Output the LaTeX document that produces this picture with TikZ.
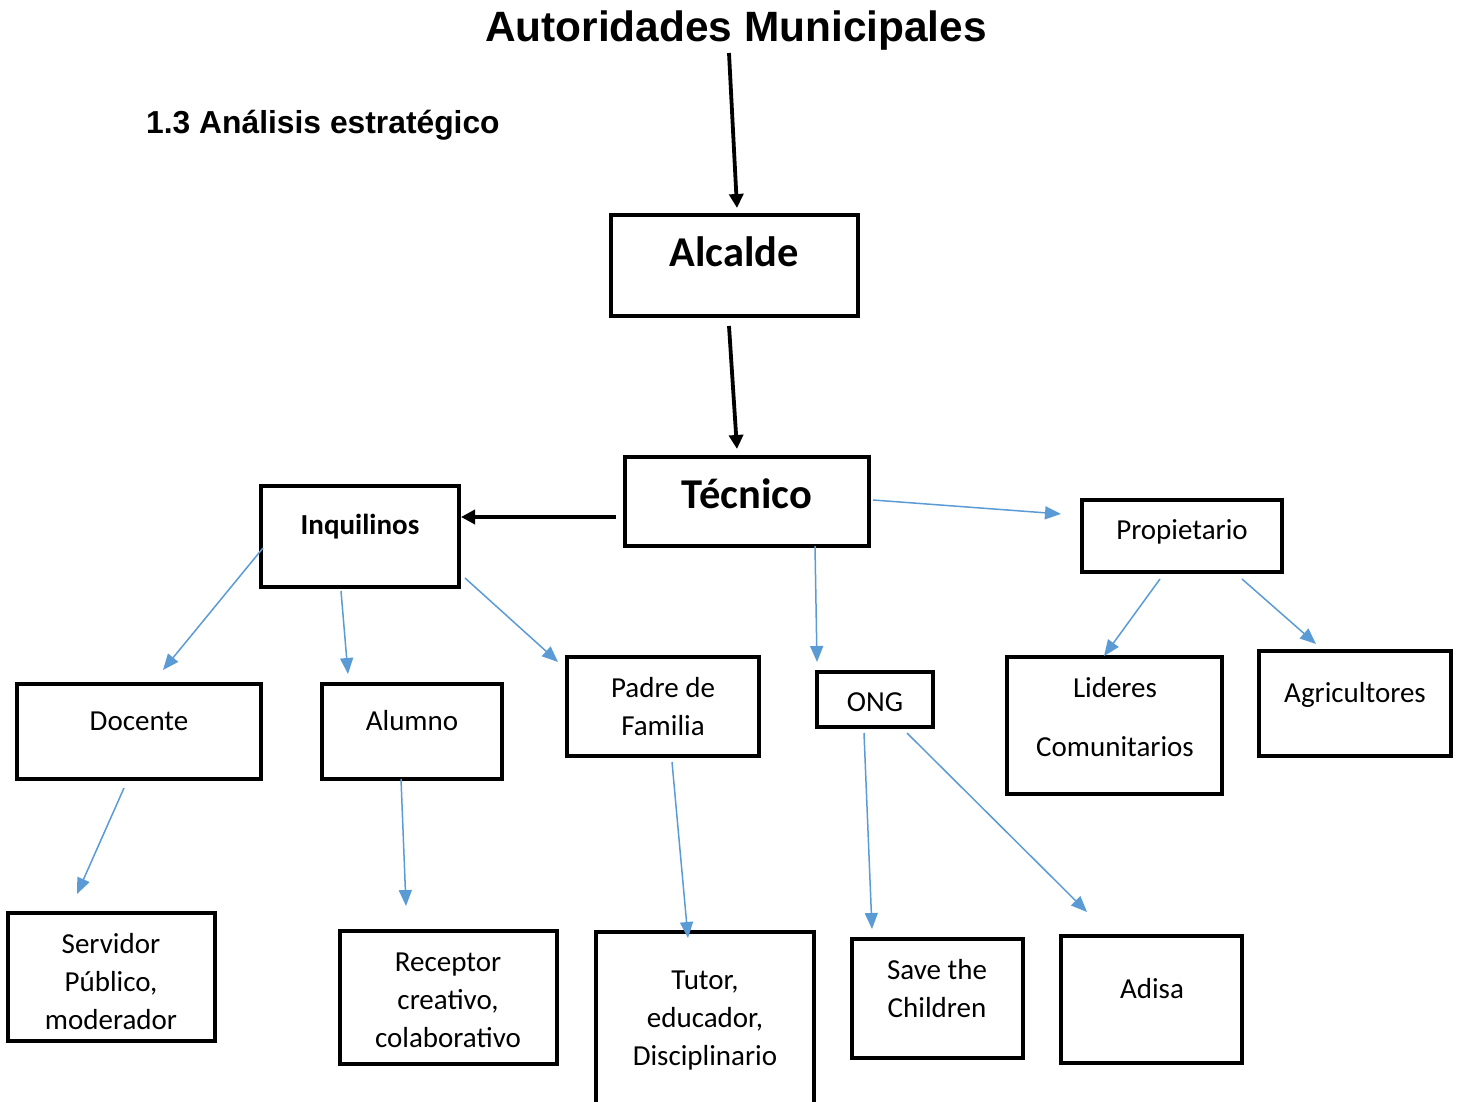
\documentclass[tikz,border=0pt]{standalone}
\usepackage{fontspec}
\setmainfont{Carlito}
\newfontfamily\arialfont{Liberation Sans}
\usetikzlibrary{arrows.meta}
\definecolor{lblue}{HTML}{5B9BD5}
\newcommand\mybox[5]{\node[box, minimum width={#4-#2}, minimum height={#5-#3}] (#1) at ({(#2+#4)/2},{(#3+#5)/2}) {};}
\begin{document}
\begin{tikzpicture}[x=1pt,y=-1pt,
  box/.style={draw, line width=3.2pt, inner sep=0pt, outer sep=0pt},
  lbl/.style={font=\fontsize{29}{38}\selectfont, anchor=base, align=center, inner sep=0pt},
  blbl/.style={font=\fontsize{42.5}{50}\selectfont\bfseries, anchor=base, inner sep=0pt},
  blue arrow/.style={draw=lblue, line width=1.5pt, -{Triangle[length=16pt,width=13pt]}},
  black arrow/.style={draw=black, line width=3.8pt, -{Triangle[length=14pt,width=14pt]}}]
\useasboundingbox (0,0) rectangle (1460,1102);
% titles
\node[font=\fontsize{42.4}{50}\selectfont\arialfont\bfseries, anchor=base, inner sep=0pt] (title) at (736,42) {Autoridades Municipales};
\node[font=\fontsize{31.8}{36}\selectfont\arialfont\bfseries, anchor=base west, inner sep=0pt] (sub) at (146,134) {1.3 Análisis estratégico};
% boxes
\mybox{alc}{611}{215}{858}{316}
\mybox{tec}{625}{457}{869}{546}
\mybox{inq}{261}{486}{459}{587}
\mybox{prop}{1082}{500}{1282}{572}
\mybox{doc}{17}{684}{261}{779}
\mybox{alu}{322}{684}{502}{779}
\mybox{pad}{567}{657}{759}{756}
\mybox{ong}{817}{672}{933}{727}
\mybox{lid}{1007}{657}{1222}{794}
\mybox{agr}{1259}{651}{1451}{756}
\mybox{ser}{8}{913}{215}{1041}
\mybox{rec}{340}{931}{557}{1064}
\mybox{tut}{596}{932}{814}{1120}
\mybox{sav}{852}{939}{1023}{1058}
\mybox{adi}{1061}{936}{1242}{1063}
% labels (base anchor = baseline of the last line)
\node[blbl] (alcT) at (734,267) {Alcalde};
\node[blbl] (tecT) at (747,508) {Técnico};
\node[lbl, font=\fontsize{29}{38}\selectfont\bfseries] (inqT) at (360,534) {Inquilinos};
\node[lbl] (propT) at (1182,539) {Propietario};
\node[lbl] (docT) at (139,730) {Docente};
\node[lbl] (aluT) at (412,730) {Alumno};
\node[lbl] (padT) at (663,735) {Padre de\\Familia};
\node[lbl] (ongT) at (875,711) {ONG};
\node[lbl, font=\fontsize{29}{59}\selectfont] (lidT) at (1115,756) {Lideres\\Comunitarios};
\node[lbl] (agrT) at (1355,702) {Agricultores};
\node[lbl] (serT) at (111,1029) {Servidor\\Público,\\moderador};
\node[lbl] (recT) at (448,1047) {Receptor\\creativo,\\colaborativo};
\node[lbl] (tutT) at (705,1065) {Tutor,\\educador,\\Disciplinario};
\node[lbl] (savT) at (937,1017) {Save the\\Children};
\node[lbl] (adiT) at (1152,998) {Adisa};
% connector end points
\coordinate (k1s) at (729,53);  \coordinate (k1e) at (737,208);
\coordinate (k2s) at (729,326); \coordinate (k2e) at (737,449);
\coordinate (k3s) at (616,517); \coordinate (k3e) at (461,517);
\coordinate (b1s) at (873,500);  \coordinate (b1e) at (1061,514);
\coordinate (b2s) at (815,546);  \coordinate (b2e) at (817,662);
\coordinate (b3s) at (263,548);  \coordinate (b3e) at (163,670);
\coordinate (b4s) at (341,591);  \coordinate (b4e) at (348,674);
\coordinate (b5s) at (465,578);  \coordinate (b5e) at (558,662);
\coordinate (b6s) at (1160,579); \coordinate (b6e) at (1104,656);
\coordinate (b7s) at (1242,579); \coordinate (b7e) at (1316,644);
\coordinate (b8s) at (124,788);  \coordinate (b8e) at (77,894);
\coordinate (b9s) at (401,779);  \coordinate (b9e) at (406,906);
\coordinate (b10s) at (672,762); \coordinate (b10e) at (688,938);
\coordinate (b11s) at (864,733); \coordinate (b11e) at (872,929);
\coordinate (b12s) at (907,733); \coordinate (b12e) at (1087,912);
% black arrows
\draw[black arrow] (k1s) -- (k1e);
\draw[black arrow] (k2s) -- (k2e);
\draw[black arrow] (k3s) -- (k3e);
% blue arrows
\foreach \i in {1,...,12} {\draw[blue arrow] (b\i s) -- (b\i e);}
\end{tikzpicture}
\end{document}
